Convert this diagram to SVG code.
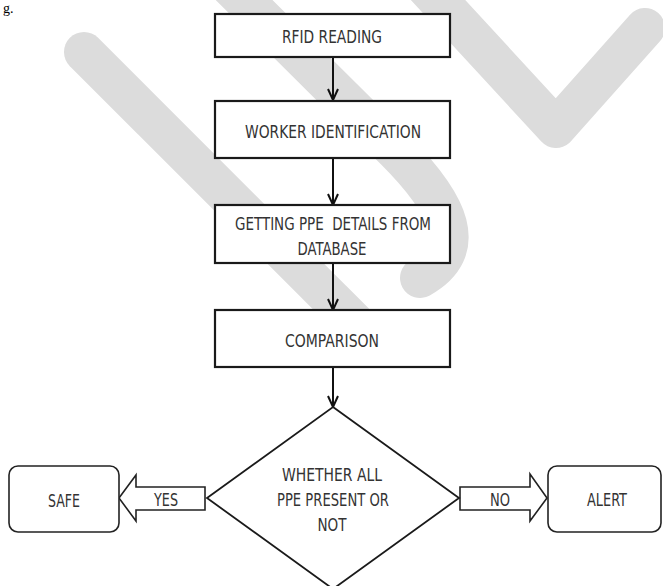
<svg xmlns="http://www.w3.org/2000/svg" width="663" height="586" viewBox="0 0 663 586">
<style>
.wm{fill:none;stroke:#dcdcdc;stroke-width:40;stroke-linecap:round;stroke-linejoin:round}
.box{fill:#fff;stroke:#1a1a1a;stroke-width:2.2}
.rbox{fill:#fff;stroke:#222;stroke-width:1.6}
.blk{fill:#fff;stroke:#222;stroke-width:1.6;stroke-linejoin:miter}
.conn{stroke:#111;stroke-width:2;fill:none}
text{font-family:"Liberation Sans Narrow","DejaVu Sans Condensed","Liberation Sans",sans-serif;font-size:18px;fill:#333;text-anchor:middle;white-space:pre}
</style>
<defs>
<marker id="ah" viewBox="-12 -6 13 12" markerWidth="13" markerHeight="12" refX="0" refY="0" orient="auto" markerUnits="userSpaceOnUse">
<path d="M-11,-5 L0,0 L-11,5" fill="none" stroke="#111" stroke-width="2"/>
</marker>
</defs>
<rect width="663" height="586" fill="#fff"/>
<g id="watermark">
<path class="wm" d="M84,52 L355,323"/>
<path class="wm" d="M230,-14 L395,150 C450,205 470,250 420,278"/>
<path class="wm" d="M415,-25 L556,128 L645,28"/>
</g>
<text x="3" y="13" style="font-family:'Liberation Serif',serif;font-size:14px;text-anchor:start;fill:#000">g.</text>
<g id="connectors">
<line class="conn" x1="333" y1="57" x2="333" y2="100" marker-end="url(#ah)"/>
<line class="conn" x1="333" y1="158" x2="333" y2="205" marker-end="url(#ah)"/>
<line class="conn" x1="333" y1="263" x2="333" y2="310" marker-end="url(#ah)"/>
<line class="conn" x1="333" y1="367" x2="333" y2="407" marker-end="url(#ah)"/>
<g id="yes-arrow">
<polygon class="blk" points="119,498 136,475 136,487 205,487 205,510 136,510 136,521"/>
<text x="166" y="506" textLength="24" lengthAdjust="spacingAndGlyphs">YES</text>
</g>
<g id="no-arrow">
<polygon class="blk" points="460,487 530,487 530,474 547,498 530,521 530,510 460,510"/>
<text x="500" y="506" textLength="20" lengthAdjust="spacingAndGlyphs">NO</text>
</g>
</g>
<g id="rfid">
<rect class="box" x="215" y="14" width="235" height="43"/>
<text x="332" y="43" textLength="100" lengthAdjust="spacingAndGlyphs">RFID READING</text>
</g>
<g id="worker">
<rect class="box" x="215" y="101" width="235" height="57"/>
<text x="333" y="138" textLength="176" lengthAdjust="spacingAndGlyphs">WORKER IDENTIFICATION</text>
</g>
<g id="getting">
<rect class="box" x="215" y="205" width="235" height="58"/>
<text x="333" y="230" textLength="196" lengthAdjust="spacingAndGlyphs">GETTING PPE  DETAILS FROM</text>
<text x="332" y="255" textLength="69" lengthAdjust="spacingAndGlyphs">DATABASE</text>
</g>
<g id="comparison">
<rect class="box" x="215" y="310" width="235" height="57"/>
<text x="332" y="347" textLength="94" lengthAdjust="spacingAndGlyphs">COMPARISON</text>
</g>
<g id="decision">
<polygon class="box" style="stroke-width:1.8" points="333,407 459,498 333,589 207,498"/>
<text x="332" y="481" textLength="100" lengthAdjust="spacingAndGlyphs">WHETHER ALL</text>
<text x="333" y="506" textLength="112" lengthAdjust="spacingAndGlyphs">PPE PRESENT OR</text>
<text x="332" y="531" textLength="29" lengthAdjust="spacingAndGlyphs">NOT</text>
</g>
<g id="safe">
<rect class="rbox" x="9" y="466" width="110" height="66" rx="9"/>
<text x="64" y="507" textLength="32" lengthAdjust="spacingAndGlyphs">SAFE</text>
</g>
<g id="alert">
<rect class="rbox" x="548" y="466" width="113" height="66" rx="9"/>
<text x="607" y="506" textLength="40" lengthAdjust="spacingAndGlyphs">ALERT</text>
</g>
</svg>
